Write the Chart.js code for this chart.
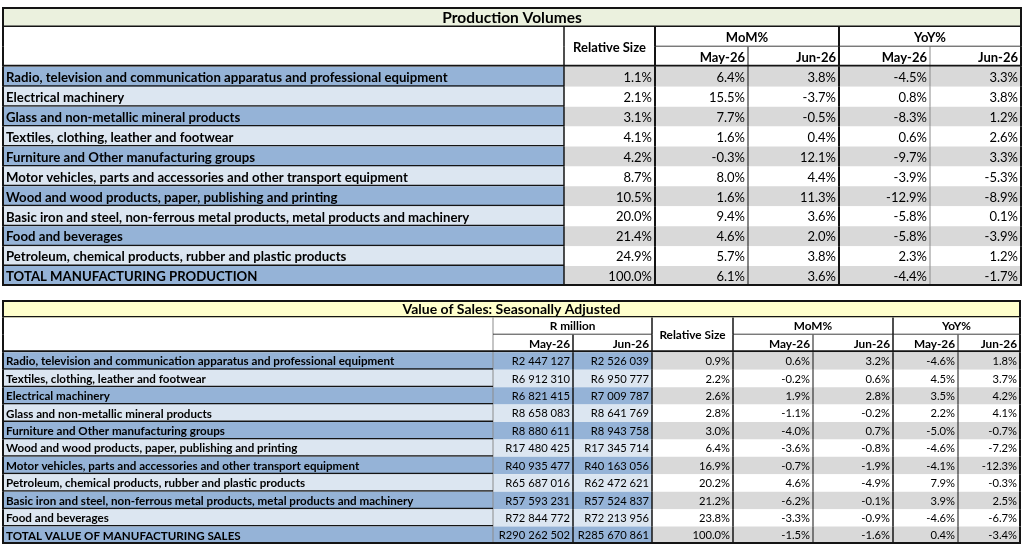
<!DOCTYPE html>
<html>
<head>
<meta charset="utf-8">
<script src="https://cdn.jsdelivr.net/npm/chart.js@4.4.1/dist/chart.umd.min.js"></script>
<style>
html,body{margin:0;padding:0;background:#fff;width:1024px;height:547px;overflow:hidden;}
.wrap{position:absolute;left:0;width:1024px;}
canvas{display:block;}
</style>
</head>
<body>
<div class="wrap" style="top:7px;height:279px"><canvas id="c1" width="1024" height="279" style="width:1024px;height:279px"></canvas></div>
<div class="wrap" style="top:300px;height:244px"><canvas id="c2" width="1024" height="244" style="width:1024px;height:244px"></canvas></div>
<script>
// ---------------- DATA: Production Volumes ----------------
const pvTitle = 'Production Volumes';
const pvCategories = [
  'Radio, television and communication apparatus and professional equipment',
  'Electrical machinery',
  'Glass and non-metallic mineral products',
  'Textiles, clothing, leather and footwear',
  'Furniture and Other manufacturing groups',
  'Motor vehicles, parts and accessories and other transport equipment',
  'Wood and wood products, paper, publishing and printing',
  'Basic iron and steel, non-ferrous metal products, metal products and machinery',
  'Food and beverages',
  'Petroleum, chemical products, rubber and plastic products',
  'TOTAL MANUFACTURING PRODUCTION'
];
const periods = ['May-26', 'Jun-26'];
const pvRelSize = [1.1, 2.1, 3.1, 4.1, 4.2, 8.7, 10.5, 20.0, 21.4, 24.9, 100.0];
const pvMomMay  = [6.4, 15.5, 7.7, 1.6, -0.3, 8.0, 1.6, 9.4, 4.6, 5.7, 6.1];
const pvMomJun  = [3.8, -3.7, -0.5, 0.4, 12.1, 4.4, 11.3, 3.6, 2.0, 3.8, 3.6];
const pvYoyMay  = [-4.5, 0.8, -8.3, 0.6, -9.7, -3.9, -12.9, -5.8, -5.8, 2.3, -4.4];
const pvYoyJun  = [3.3, 3.8, 1.2, 2.6, 3.3, -5.3, -8.9, 0.1, -3.9, 1.2, -1.7];

// ---------------- DATA: Value of Sales ----------------
const salesTitle = 'Value of Sales: Seasonally Adjusted';
const salesCategories = [
  'Radio, television and communication apparatus and professional equipment',
  'Textiles, clothing, leather and footwear',
  'Electrical machinery',
  'Glass and non-metallic mineral products',
  'Furniture and Other manufacturing groups',
  'Wood and wood products, paper, publishing and printing',
  'Motor vehicles, parts and accessories and other transport equipment',
  'Petroleum, chemical products, rubber and plastic products',
  'Basic iron and steel, non-ferrous metal products, metal products and machinery',
  'Food and beverages',
  'TOTAL VALUE OF MANUFACTURING SALES'
];
const salesRMay  = [2447127, 6912310, 6821415, 8658083, 8880611, 17480425, 40935477, 65687016, 57593231, 72844772, 290262502];
const salesRJun  = [2526039, 6950777, 7009787, 8641769, 8943758, 17345714, 40163056, 62472621, 57524837, 72213956, 285670861];
const salesRelSize = [0.9, 2.2, 2.6, 2.8, 3.0, 6.4, 16.9, 20.2, 21.2, 23.8, 100.0];
const salesMomMay = [0.6, -0.2, 1.9, -1.1, -4.0, -3.6, -0.7, 4.6, -6.2, -3.3, -1.5];
const salesMomJun = [3.2, 0.6, 2.8, -0.2, 0.7, -0.8, -1.9, -4.9, -0.1, -0.9, -1.6];
const salesYoyMay = [-4.6, 4.5, 3.5, 2.2, -5.0, -4.6, -4.1, 7.9, 3.9, -4.6, 0.4];
const salesYoyJun = [1.8, 3.7, 4.2, 4.1, -0.7, -7.2, -12.3, -0.3, 2.5, -6.7, -3.4];

// ---------------- formatting ----------------
const pct = v => v.toFixed(1) + '%';
const rand = v => 'R' + String(v).replace(/\B(?=(\d{3})+(?!\d))/g, ' ');
const txt = v => v;

// ---------------- styles / layout ----------------
const DARK = '#141414';
const GREY_LINE = '#8c8c8c';
const BLUE = ['#95b3d7', '#dce6f1'];
const GREY = ['#d9d9d9', '#ffffff'];
const FONT = 'Lato, "Open Sans", "Liberation Sans", sans-serif';

const spec1 = {
  title: pvTitle, titleBg: '#ebf1de',
  edges: [3, 564, 655, 748, 839, 930, 1021],
  rows: pvCategories,
  labelSize: 13.2, numSize: 13, headSize: 13, titleSize: 15.5, dy: 1,
  columns: [
    { values: pvCategories, fmt: txt, align: 'left', bold: true, fill: BLUE },
    { values: pvRelSize, fmt: pct, align: 'right', fill: GREY },
    { values: pvMomMay, fmt: pct, align: 'right', fill: GREY, period: periods[0] },
    { values: pvMomJun, fmt: pct, align: 'right', fill: GREY, period: periods[1] },
    { values: pvYoyMay, fmt: pct, align: 'right', fill: GREY, period: periods[0] },
    { values: pvYoyJun, fmt: pct, align: 'right', fill: GREY, period: periods[1] }
  ],
  groups: [
    { text: 'Relative Size', c0: 1, c1: 2, rowspan: true },
    { text: 'MoM%', c0: 2, c1: 4 },
    { text: 'YoY%', c0: 4, c1: 6 }
  ],
  vlines: [
    { edge: 0, w: 2, from: 0, to: 13 },
    { edge: 6, w: 2, from: 0, to: 13 },
    { edge: 1, w: 1.5, from: 1, to: 13 },
    { edge: 2, w: 2, from: 1, to: 13 },
    { edge: 3, w: 1, from: 2, to: 13 },
    { edge: 4, w: 2, from: 1, to: 13 },
    { edge: 5, w: 1, from: 2, to: 13, color: GREY_LINE }
  ],
  hlines: [
    { side: 'top', w: 2, from: 0, to: 0, c0: 0, c1: 6 },
    { side: 'bottom', w: 1.5, from: 0, to: 0, c0: 0, c1: 6 },
    { side: 'bottom', w: 1, from: 1, to: 1, c0: 2, c1: 6 },
    { side: 'bottom', w: 2, from: 2, to: 2, c0: 0, c1: 6 },
    { side: 'bottom', w: 1.5, from: 3, to: 12, c0: 0, c1: 1 },
    { side: 'bottom', w: 2, from: 13, to: 13, c0: 0, c1: 6 }
  ]
};

const spec2 = {
  title: salesTitle, titleBg: '#ffffcc',
  edges: [3, 493, 573, 652, 733, 813, 893, 958, 1020],
  rows: salesCategories,
  labelSize: 11.6, numSize: 11.2, headSize: 11.8, titleSize: 14, dy: 0.5,
  columns: [
    { values: salesCategories, fmt: txt, align: 'left', bold: true, fill: BLUE },
    { values: salesRMay, fmt: rand, align: 'right', fill: BLUE, period: periods[0] },
    { values: salesRJun, fmt: rand, align: 'right', fill: BLUE, period: periods[1] },
    { values: salesRelSize, fmt: pct, align: 'right', fill: GREY },
    { values: salesMomMay, fmt: pct, align: 'right', fill: GREY, period: periods[0] },
    { values: salesMomJun, fmt: pct, align: 'right', fill: GREY, period: periods[1] },
    { values: salesYoyMay, fmt: pct, align: 'right', fill: GREY, period: periods[0] },
    { values: salesYoyJun, fmt: pct, align: 'right', fill: GREY, period: periods[1] }
  ],
  groups: [
    { text: 'R million', c0: 1, c1: 3 },
    { text: 'Relative Size', c0: 3, c1: 4, rowspan: true },
    { text: 'MoM%', c0: 4, c1: 6 },
    { text: 'YoY%', c0: 6, c1: 8 }
  ],
  vlines: [
    { edge: 0, w: 2, from: 0, to: 13 },
    { edge: 8, w: 2, from: 0, to: 13 },
    { edge: 1, w: 1, from: 1, to: 13, color: GREY_LINE },
    { edge: 2, w: 1.5, from: 2, to: 13 },
    { edge: 3, w: 1.5, from: 1, to: 13 },
    { edge: 4, w: 1.5, from: 1, to: 13 },
    { edge: 5, w: 1, from: 2, to: 13 },
    { edge: 6, w: 1.5, from: 1, to: 13 },
    { edge: 7, w: 1, from: 2, to: 13 }
  ],
  hlines: [
    { side: 'top', w: 2, from: 0, to: 0, c0: 0, c1: 8 },
    { side: 'bottom', w: 1.5, from: 0, to: 0, c0: 0, c1: 8 },
    { side: 'bottom', w: 1, from: 1, to: 1, c0: 1, c1: 3 },
    { side: 'bottom', w: 1, from: 1, to: 1, c0: 4, c1: 8 },
    { side: 'bottom', w: 2, from: 2, to: 2, c0: 0, c1: 8 },
    { side: 'bottom', w: 1.5, from: 3, to: 12, c0: 0, c1: 1 },
    { side: 'bottom', w: 2, from: 13, to: 13, c0: 0, c1: 8 }
  ]
};

function makeTextPlugin(spec) {
  return {
    id: 'cellText',
    afterDatasetsDraw(chart) {
      const ctx = chart.ctx;
      const xs = chart.scales.x, ys = chart.scales.y;
      const E = spec.edges, nC = E.length - 1;
      const X = v => xs.getPixelForValue(v);
      const Y = r => ys.getPixelForValue(r);
      const dy = spec.dy;
      ctx.save();
      ctx.fillStyle = '#000';
      ctx.textBaseline = 'middle';
      const put = (s, x, y, align, bold, size) => {
        ctx.font = (bold ? 'bold ' : '') + size + 'px ' + FONT;
        ctx.textAlign = align;
        ctx.fillText(s, x, y);
      };
      put(spec.title, (X(E[0]) + X(E[nC])) / 2, Y(0) + dy, 'center', true, spec.titleSize);
      spec.groups.forEach(g => {
        const y = g.rowspan ? (Y(1) + Y(2)) / 2 : Y(1);
        put(g.text, (X(E[g.c0]) + X(E[g.c1])) / 2, y + dy, 'center', true, spec.headSize);
      });
      spec.columns.forEach((col, c) => {
        if (col.period) put(col.period, X(E[c + 1]) - 3, Y(2) + dy, 'right', true, spec.headSize);
        col.values.forEach((v, r) => {
          const s = col.fmt(v);
          const y = Y(3 + r) + dy;
          if (col.align === 'left') put(s, X(E[c]) + 3, y, 'left', !!col.bold, spec.labelSize);
          else put(s, X(E[c + 1]) - 3, y, 'right', !!col.bold, spec.numSize);
        });
      });
      ctx.restore();
    }
  };
}

function buildTable(canvasId, spec) {
  const E = spec.edges, nC = E.length - 1;
  const labels = ['title', 'group', 'period'].concat(spec.rows);
  const nRows = labels.length;
  const blank = () => new Array(nRows).fill(null);
  const datasets = [];
  const t = blank(); t[0] = [E[0], E[nC]];
  datasets.push({ data: t, backgroundColor: spec.titleBg, order: 10 });
  spec.columns.forEach((col, c) => {
    const d = blank();
    col.values.forEach((v, r) => { d[3 + r] = [E[c], E[c + 1]]; });
    datasets.push({
      data: d, order: 10,
      backgroundColor: ctx => col.fill[(ctx.dataIndex - 3) % 2]
    });
  });
  spec.vlines.forEach(v => {
    const d = blank();
    for (let r = v.from; r <= v.to; r++) d[r] = [E[v.edge] - v.w / 2, E[v.edge] + v.w / 2];
    datasets.push({ data: d, backgroundColor: v.color || DARK, order: 1 });
  });
  spec.hlines.forEach(h => {
    const d = blank();
    for (let r = h.from; r <= h.to; r++) d[r] = [E[h.c0], E[h.c1]];
    const bw = { top: 0, right: 0, bottom: 0, left: 0 };
    bw[h.side] = h.w;
    datasets.push({
      data: d, backgroundColor: 'rgba(0,0,0,0)', borderColor: h.color || DARK,
      borderWidth: bw, borderSkipped: false, order: 0
    });
  });

  return new Chart(document.getElementById(canvasId), {
    type: 'bar',
    data: { labels, datasets },
    options: {
      indexAxis: 'y',
      responsive: false,
      animation: false,
      events: [],
      layout: { padding: 0 },
      datasets: {
        bar: {
          grouped: false, barPercentage: 1, categoryPercentage: 1,
          inflateAmount: 0, borderWidth: 0
        }
      },
      scales: {
        x: { type: 'linear', min: 0, max: 1024, display: false },
        y: { type: 'category', display: false, offset: true }
      },
      plugins: { legend: { display: false }, tooltip: { enabled: false }, title: { display: false } }
    },
    plugins: [makeTextPlugin(spec)]
  });
}

buildTable('c1', spec1);
buildTable('c2', spec2);
</script>
</body>
</html>
